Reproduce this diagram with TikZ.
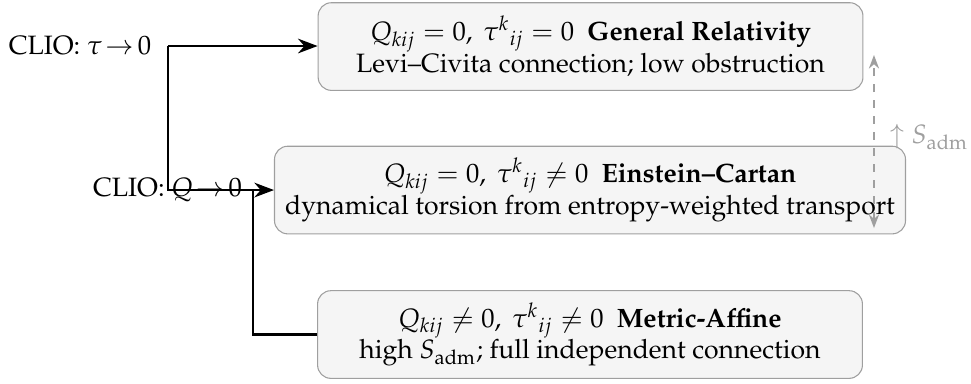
\documentclass[tikz,border=0pt]{standalone}
\usepackage[T1]{fontenc}
\usepackage{mathpazo}
\usepackage{amsmath, amssymb}
\usepackage{xcolor}
\usepackage{tikz}
\usetikzlibrary{arrows.meta, positioning, calc}

\begin{document}
\begin{tikzpicture}[
  every node/.style={font=\normalsize},
  regime/.style={draw=gray!75, fill=gray!8, rounded corners=5pt, align=center, minimum width=7.21cm, minimum height=1.16cm, inner sep=4pt},
  cliolbl/.style={inner sep=0pt},
  arrow/.style={-{Stealth[length=2.6mm]}, thick},
  link/.style={thick},
  sarrow/.style={{Stealth[length=1.8mm]}-{Stealth[length=1.8mm]}, dashed, gray!75, semithick},
  slabel/.style={text=gray!75, inner sep=0pt}
]
  \useasboundingbox (0,0) rectangle (12.85,5.069);

  % Regimi della connessione
  \node[regime] (gr) at (7.815, 4.453) {$Q_{kij}=0,\ \tau^{k}{}_{ij}=0$\ \ \textbf{General Relativity}\\ Levi--Civita connection; low obstruction};
  \node[regime] (ec) at (7.808, 2.554) {$Q_{kij}=0,\ \tau^{k}{}_{ij}\neq 0$\ \ \textbf{Einstein--Cartan}\\ dynamical torsion from entropy-weighted transport};
  \node[regime] (ma) at (7.808, 0.642) {$Q_{kij}\neq 0,\ \tau^{k}{}_{ij}\neq 0$\ \ \textbf{Metric-Affine}\\ high $S_{\mathrm{adm}}$; full independent connection};

  % Limiti CLIO
  \node[cliolbl] (tau) at (1.059, 4.460) {CLIO: $\tau\mkern2mu{\to}\mkern3mu 0$};
  \node[cliolbl] (qlim) at (2.217, 2.554) {CLIO: $Q\mkern2mu{\to}\mkern3mu 0$};
  \coordinate (j1) at (2.223, 4.460);
  \coordinate (j2) at (3.348, 2.554);

  % Frecce
  \draw[arrow] (j1) -- (j1 -| gr.west);
  \draw[arrow] (j1) |- (ec.west);
  \draw[link] (j2) |- (ma.west);

  % Entropia ammissibile
  \coordinate (stop) at (11.566, 4.341);
  \coordinate (sbot) at (11.566, 2.051);
  \draw[sarrow] (sbot) -- (stop);
  \node[slabel] (sadm) at (12.294, 3.256) {$\uparrow S_{\mathrm{adm}}$};

\end{tikzpicture}
\end{document}
